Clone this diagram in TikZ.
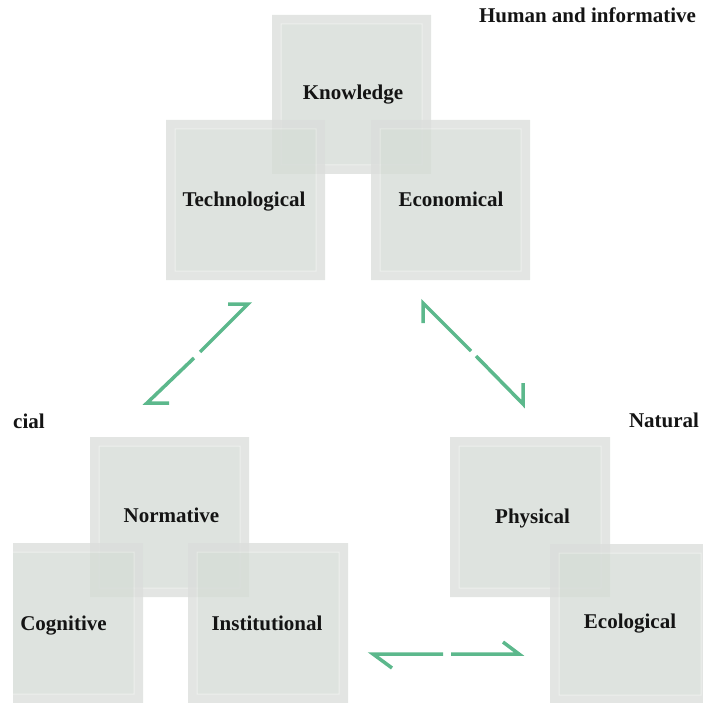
\documentclass[tikz,border=0pt]{standalone}
\usepackage{fontspec}
\setmainfont{Liberation Serif}
\definecolor{band}{RGB}{219,222,219}
\definecolor{innerfill}{RGB}{213,220,214}
\definecolor{liner}{RGB}{233,236,233}
\definecolor{arrowgreen}{RGB}{92,184,140}
\tikzset{
  lbl/.style={font=\fontsize{21}{24}\selectfont\bfseries, anchor=base, inner sep=0pt, text=black!92},
  arr/.style={draw=arrowgreen, line width=3.5pt, line join=miter, line cap=butt},
}
\newcommand\sqbox[4]{%
  \begin{scope}[transparency group, opacity=0.79]
    \fill[band] (#1,#2) rectangle (#3,#4);
    \filldraw[fill=innerfill, draw=liner, line width=1pt] (#1+9,#2+9) rectangle (#3-9,#4-9);
  \end{scope}}
\begin{document}
\begin{tikzpicture}[x=1pt,y=-1pt]
\useasboundingbox (0,0) rectangle (702,703);
\clip (0,0) rectangle (702,703);
% boxes
\sqbox{272}{15}{431}{174}
\sqbox{166}{120}{325}{280}
\sqbox{371}{120}{530}{280}
\sqbox{90}{437}{249}{597}
\begin{scope}
  \clip (13,0) rectangle (702,703);
  \sqbox{-17}{543}{143}{703}
\end{scope}
\sqbox{188}{543}{348}{703}
\sqbox{450}{437}{610}{597}
\sqbox{550}{544}{710}{704}
% labels
\node[lbl] (knowledge) at (353,100) {Knowledge};
\node[lbl] (technological) at (244,207) {Technological};
\node[lbl] (economical) at (451,207) {Economical};
\node[lbl] (normative) at (171.5,522) {Normative};
\node[lbl] (cognitive) at (63.5,630) {Cognitive};
\node[lbl] (institutional) at (267,630) {Institutional};
\node[lbl] (physical) at (532.5,523) {Physical};
\node[lbl] (ecological) at (630,628) {Ecological};
\node[lbl] (natural) at (664,427) {Natural};
\node[lbl, anchor=base west] (social) at (13,428) {cial};
\node[lbl] (human) at (587.5,23) {Human and informative};
% arrow coordinates
\coordinate (a1) at (228,304); \coordinate (a2) at (248,304); \coordinate (a3) at (200,352);
\coordinate (a4) at (194,358); \coordinate (a5) at (147,403); \coordinate (a6) at (169,403);
\coordinate (b1) at (423,323); \coordinate (b2) at (423,303); \coordinate (b3) at (471,351);
\coordinate (b4) at (476,356); \coordinate (b5) at (523,404); \coordinate (b6) at (523,383);
\coordinate (c1) at (392,668); \coordinate (c2) at (373,654); \coordinate (c3) at (443,654);
\coordinate (c4) at (451,654); \coordinate (c5) at (519,654); \coordinate (c6) at (503,642);
\draw[arr] (a1) -- (a2) -- (a3);
\draw[arr] (a4) -- (a5) -- (a6);
\draw[arr] (b1) -- (b2) -- (b3);
\draw[arr] (b4) -- (b5) -- (b6);
\draw[arr] (c1) -- (c2) -- (c3);
\draw[arr] (c4) -- (c5) -- (c6);
\end{tikzpicture}
\end{document}
